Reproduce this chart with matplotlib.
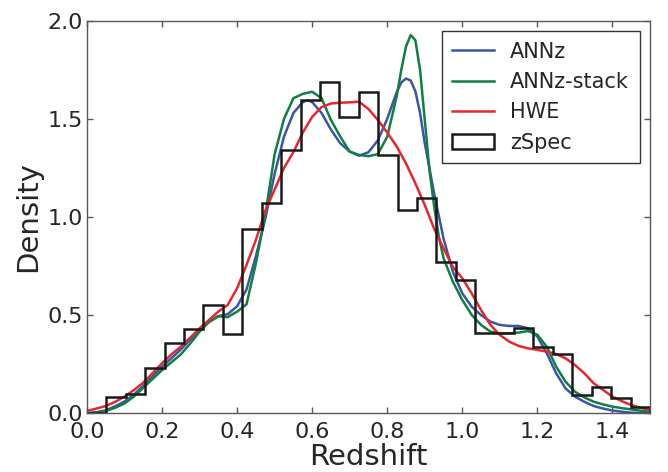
import numpy as np
import matplotlib
matplotlib.use("Agg")
import matplotlib.pyplot as plt

# zSpec histogram (29 bins between 0 and 1.5)
bin_edges = np.linspace(0.0, 1.5, 30)
zspec_density = [0.0, 0.085, 0.097, 0.229, 0.357, 0.428, 0.550, 0.404, 0.940, 1.070,
                 1.341, 1.594, 1.686, 1.511, 1.635, 1.316, 1.036, 1.095, 0.772, 0.679,
                 0.407, 0.407, 0.436, 0.339, 0.302, 0.093, 0.132, 0.076, 0.031]

# ANNz curve
z_annz = [0.0, 0.025, 0.05, 0.075, 0.1, 0.125, 0.15, 0.175, 0.2, 0.225,
          0.25, 0.275, 0.3, 0.325, 0.35, 0.375, 0.4, 0.425, 0.45, 0.475,
          0.5, 0.525, 0.55, 0.575, 0.5875, 0.6, 0.625, 0.65, 0.675, 0.7, 0.725,
          0.75, 0.775, 0.8, 0.825, 0.8375, 0.85, 0.8625, 0.875, 0.8875, 0.9,
          0.925, 0.95, 0.975, 1.0, 1.025, 1.05, 1.075, 1.1, 1.125, 1.15,
          1.175, 1.2, 1.225, 1.25, 1.275, 1.3, 1.325, 1.35, 1.375, 1.4,
          1.425, 1.45, 1.475, 1.5]
annz = [0.0, 0.005, 0.015, 0.035, 0.06, 0.095, 0.14, 0.19, 0.238, 0.28,
        0.325, 0.375, 0.425, 0.465, 0.495, 0.505, 0.545, 0.63, 0.80, 0.99,
        1.22, 1.41, 1.53, 1.585, 1.595, 1.585, 1.53, 1.445, 1.375, 1.333, 1.312,
        1.33, 1.39, 1.50, 1.635, 1.685, 1.705, 1.695, 1.64, 1.53, 1.375,
        1.12, 0.89, 0.72, 0.611, 0.543, 0.50, 0.467, 0.45, 0.445, 0.445,
        0.433, 0.391, 0.306, 0.204, 0.127, 0.085, 0.059, 0.037, 0.024, 0.014,
        0.008, 0.003, 0.001, 0.0]

# ANNz-stack has a sharp peak, so it gets a finer grid around 0.85-0.95
z_stack = [0.0, 0.025, 0.05, 0.075, 0.1, 0.125, 0.15, 0.175, 0.2, 0.225,
           0.25, 0.275, 0.3, 0.325, 0.35, 0.375, 0.4, 0.425, 0.45, 0.475,
           0.5, 0.525, 0.55, 0.575, 0.6, 0.625, 0.65, 0.675, 0.7, 0.725,
           0.75, 0.775, 0.8, 0.825, 0.8375, 0.85, 0.8625, 0.875, 0.8875, 0.9,
           0.9125, 0.925, 0.9375, 0.95, 0.975, 1.0, 1.025, 1.05, 1.075, 1.1,
           1.125, 1.15, 1.175, 1.2, 1.225, 1.25, 1.275, 1.3, 1.325, 1.35,
           1.375, 1.4, 1.425, 1.45, 1.475, 1.5]
annz_stack = [0.0, 0.004, 0.012, 0.028, 0.05, 0.085, 0.13, 0.175, 0.22, 0.26,
              0.30, 0.355, 0.416, 0.465, 0.495, 0.49, 0.518, 0.555, 0.764, 1.01,
              1.32, 1.50, 1.605, 1.627, 1.638, 1.605, 1.494, 1.409, 1.333, 1.316,
              1.31, 1.32, 1.409, 1.613, 1.75, 1.868, 1.927, 1.90, 1.749, 1.494,
              1.24, 1.053, 0.90, 0.79, 0.67, 0.577, 0.501, 0.45, 0.416, 0.407,
              0.407, 0.411, 0.419, 0.40, 0.339, 0.238, 0.161, 0.11, 0.081, 0.059,
              0.045, 0.034, 0.026, 0.02, 0.013, 0.008]

# HWE curve
z_hwe = [0.0, 0.025, 0.05, 0.075, 0.1, 0.125, 0.15, 0.175, 0.2, 0.225,
         0.25, 0.275, 0.3, 0.325, 0.35, 0.375, 0.4, 0.425, 0.45, 0.475,
         0.5, 0.525, 0.55, 0.575, 0.6, 0.625, 0.65, 0.675, 0.7, 0.725,
         0.75, 0.775, 0.8, 0.825, 0.85, 0.875, 0.9, 0.925, 0.95, 0.975,
         1.0, 1.025, 1.05, 1.075, 1.1, 1.125, 1.15, 1.175, 1.2, 1.225,
         1.25, 1.275, 1.3, 1.325, 1.35, 1.375, 1.4, 1.425, 1.45, 1.475, 1.5]
hwe = [0.012, 0.024, 0.037, 0.058, 0.085, 0.118, 0.156, 0.205, 0.255, 0.30,
       0.34, 0.385, 0.433, 0.475, 0.518, 0.552, 0.637, 0.755, 0.883, 1.03,
       1.14, 1.25, 1.33, 1.43, 1.51, 1.56, 1.578, 1.582, 1.584, 1.587,
       1.55, 1.494, 1.43, 1.36, 1.273, 1.171, 1.061, 0.94, 0.84, 0.745,
       0.688, 0.611, 0.526, 0.45, 0.399, 0.365, 0.343, 0.331, 0.323, 0.314,
       0.302, 0.28, 0.246, 0.204, 0.153, 0.119, 0.085, 0.062, 0.042, 0.028, 0.017]

text_col = '#262626'
plt.rcParams['font.family'] = 'DejaVu Sans'

fig = plt.figure(figsize=(6.68, 4.72), dpi=100)
ax = fig.add_axes([0.1302, 0.1244, 0.8428, 0.8318])

ax.plot(z_annz, annz, color='#3b55a8', lw=1.8, label='ANNz')
ax.plot(z_stack, annz_stack, color='#0f803f', lw=1.8, label='ANNz-stack')
ax.plot(z_hwe, hwe, color='#e8262d', lw=1.8, label='HWE')
ax.hist(bin_edges[:-1], bins=bin_edges, weights=zspec_density, histtype='step',
        color='#1a1a1a', lw=1.8, label='zSpec')

ax.set_xlim(0.0, 1.5)
ax.set_ylim(0.0, 2.0)
ax.set_xticks([0.0, 0.2, 0.4, 0.6, 0.8, 1.0, 1.2, 1.4])
ax.set_yticks([0.0, 0.5, 1.0, 1.5, 2.0])
ax.tick_params(direction='in', top=True, right=True, length=4, width=1,
               color='0.35', labelsize=16, labelcolor=text_col)
ax.tick_params(axis='x', pad=6)
ax.tick_params(axis='y', pad=3)
for s in ax.spines.values():
    s.set_color('0.35')
    s.set_linewidth(1)

ax.set_xlabel('Redshift', fontsize=21, color=text_col, labelpad=1)
ax.set_ylabel('Density', fontsize=21, color=text_col, labelpad=4)

leg = ax.legend(loc='upper right', fontsize=15, fancybox=False, framealpha=1,
                edgecolor='#333333', handlelength=2.0, borderpad=0.5,
                labelspacing=0.5, handletextpad=0.8)
leg.get_frame().set_linewidth(1)
for t in leg.get_texts():
    t.set_color(text_col)

fig.savefig('out.png', dpi=100, facecolor='white')
